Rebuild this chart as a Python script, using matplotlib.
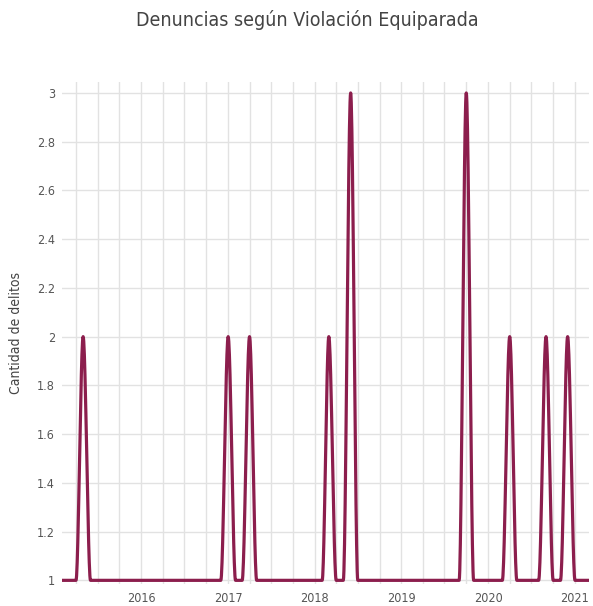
import numpy as np
import pandas as pd
import matplotlib
matplotlib.use('Agg')
import matplotlib.pyplot as plt
import matplotlib.dates as mdates
from matplotlib.ticker import MultipleLocator, FuncFormatter

# Monthly complaints, Feb 2015 .. Mar 2021
vals_2015 = [1, 1, 1, 2, 1, 1, 1, 1, 1, 1, 1]            # Feb-Dec
vals_2016 = [1, 1, 1, 1, 1, 1, 1, 1, 1, 1, 1, 1]
vals_2017 = [2, 1, 1, 2, 1, 1, 1, 1, 1, 1, 1, 1]
vals_2018 = [1, 1, 2, 1, 1, 3, 1, 1, 1, 1, 1, 1]
vals_2019 = [1, 1, 1, 1, 1, 1, 1, 1, 1, 3, 1, 1]
vals_2020 = [1, 1, 1, 2, 1, 1, 1, 1, 2, 1, 1, 2]
vals_2021 = [1, 1, 1]                                    # Jan-Mar

values = vals_2015 + vals_2016 + vals_2017 + vals_2018 + vals_2019 + vals_2020 + vals_2021
months = pd.date_range('2015-02-01', periods=len(values), freq='MS')

line_color = '#8c1e4d'
text_color = '#555555'
grid_color = '#e2e2e2'

plt.rcParams['font.family'] = 'DejaVu Sans'
plt.rcParams['font.stretch'] = 'condensed'


def monotone_curve(x, y, n=24):
    # monotone cubic (Fritsch-Carlson), like the chart's smoothing
    x = np.asarray(x, float)
    y = np.asarray(y, float)
    h = np.diff(x)
    d = np.diff(y) / h
    m = np.zeros_like(y)
    for k in range(1, len(y) - 1):
        if d[k - 1] * d[k] > 0:
            w1 = 2 * h[k] + h[k - 1]
            w2 = h[k] + 2 * h[k - 1]
            m[k] = (w1 + w2) / (w1 / d[k - 1] + w2 / d[k])
    xs, ys = [], []
    t = np.linspace(0, 1, n, endpoint=False)
    for k in range(len(h)):
        h00 = 2 * t**3 - 3 * t**2 + 1
        h10 = t**3 - 2 * t**2 + t
        h01 = -2 * t**3 + 3 * t**2
        h11 = t**3 - t**2
        xs.append(x[k] + t * h[k])
        ys.append(h00 * y[k] + h10 * h[k] * m[k] + h01 * y[k + 1] + h11 * h[k] * m[k + 1])
    xs.append([x[-1]])
    ys.append([y[-1]])
    return np.concatenate(xs), np.concatenate(ys)


fig = plt.figure(figsize=(5.93, 6.06), dpi=100)
ax = fig.add_axes([62 / 593, 22 / 606, 527 / 593, 502 / 606])

xn = mdates.date2num(months)
cx, cy = monotone_curve(xn, values)
ax.plot(cx, cy, color=line_color, linewidth=2.3, solid_capstyle='round', zorder=3)

ax.xaxis_date()
ax.set_xlim(xn[0], xn[-1])
ax.set_ylim(0.985, 3.045)

ax.xaxis.set_major_locator(mdates.YearLocator())
ax.xaxis.set_major_formatter(mdates.DateFormatter('%Y'))
ax.xaxis.set_minor_locator(mdates.MonthLocator(bymonth=[1, 4, 7, 10]))
ax.yaxis.set_major_locator(MultipleLocator(0.2))
ax.yaxis.set_major_formatter(FuncFormatter(lambda v, p: f'{v:g}'))

ax.grid(True, which='both', axis='x', color=grid_color, linewidth=1)
ax.grid(True, which='major', axis='y', color=grid_color, linewidth=1)
ax.set_axisbelow(True)
for s in ax.spines.values():
    s.set_visible(False)

ax.tick_params(axis='both', which='both', length=0, colors=text_color, labelsize=9)
ax.tick_params(axis='x', pad=6)
ax.tick_params(axis='y', pad=5)

ax.set_ylabel('Cantidad de delitos', fontsize=10, color='#444444', labelpad=10)
fig.text(0.518, 0.967, 'Denuncias según Violación Equiparada', ha='center', va='center',
         fontsize=14, color='#444444')

fig.savefig('out.png', dpi=100)
